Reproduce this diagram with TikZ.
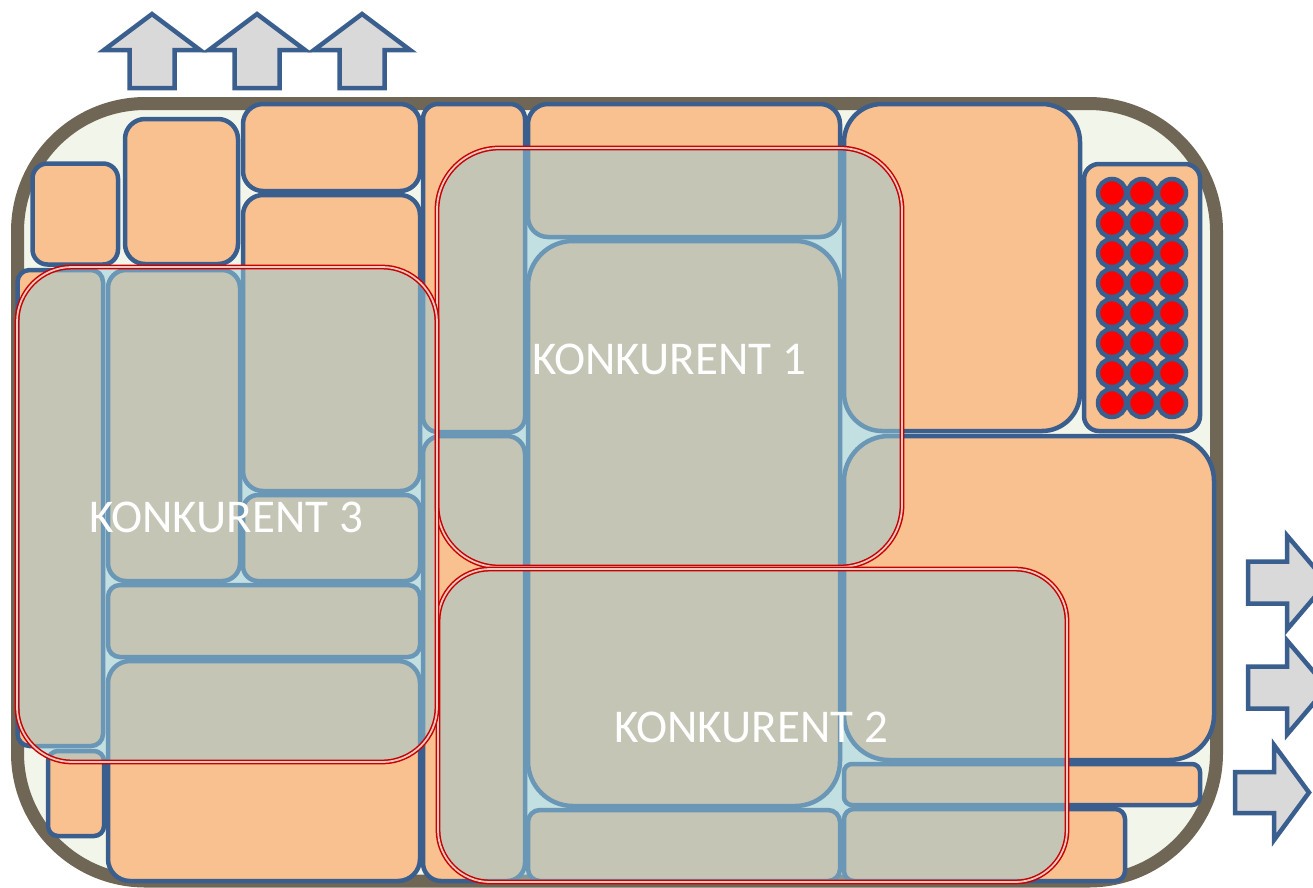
\documentclass[tikz,border=0pt]{standalone}
\usepackage{fontspec}
\setmainfont{Carlito}
\definecolor{boxline}{RGB}{112,102,85}
\definecolor{boxfill}{RGB}{242,246,234}
\definecolor{plotfill}{RGB}{249,192,144}
\definecolor{plotline}{RGB}{58,95,142}
\definecolor{arrowfill}{RGB}{217,217,217}
\definecolor{rivalfill}{RGB}{150,203,217}
\definecolor{rivalline}{RGB}{200,0,0}
\definecolor{rivalgap}{RGB}{236,200,190}
\begin{document}
\begin{tikzpicture}[x=1pt,y=-1pt,
    parcel/.style={draw=plotline,fill=plotfill,line width=4.5pt},
    rival/.style={fill=rivalfill,fill opacity=0.52,draw=rivalline,
      double=rivalgap,double distance=1.8pt,line width=1.5pt},
    bigarrow/.style={draw=plotline,fill=arrowfill,line width=4.5pt,line join=miter},
    tag/.style={text=white,font=\fontsize{47}{56}\selectfont,inner sep=0pt}]
  \clip (0,0) rectangle (1313,887);
  % outer boundary
  \draw[line width=13pt,draw=boxline,fill=boxfill,rounded corners=128pt]
    (17.5,103.5) rectangle (1216.5,881);
  % parcels
  \foreach \xa/\ya/\xb/\yb/\r in {
      32.5/163.5/118/264.5/15, 125/119/238/264/20, 243/104/420/191/20,
      243/195/420/491/20, 243/495/420/581/15, 108/270/240/581/18,
      108/585/420/657/12, 108/661/420/881/22, 17.5/270/103/746/12,
      48/751/104/836/10, 423/104/525/432/15, 423/436/525/881/18,
      528/104/840/237/20, 528/241/840/806/45, 844/104/1080/431/38,
      1084/164/1200/431/15, 844/436/1214/760/45, 844/764/1200/805/8,
      844/809/1125/881/10, 528/810/840/881/12}
    \draw[parcel,rounded corners=\r pt] (\xa,\ya) rectangle (\xb,\yb);
  % red points
  \foreach \i in {0,...,7}
    \foreach \cx in {1112,1142,1172}
      \draw[draw=plotline,fill=red,line width=4.5pt] (\cx,193+30*\i) circle[radius=14pt];
  % competitors
  \draw[rival,rounded corners=62pt] (437,148) rectangle (902,567);
  \draw[rival,rounded corners=52pt] (438,569) rectangle (1067,882);
  \draw[rival,rounded corners=55pt] (17,267) rectangle (437,762);
  \node[tag] (konk1) at (669,359) {KONKURENT 1};
  \node[tag] (konk2) at (751,727) {KONKURENT 2};
  \node[tag] (konk3) at (226,517) {KONKURENT 3};
  % exits
  \foreach \dx in {0,105,210}
    \draw[bigarrow] (129.5+\dx,88) -- (129.5+\dx,50) -- (104+\dx,50) -- (152+\dx,14)
      -- (200+\dx,50) -- (174.5+\dx,50) -- (174.5+\dx,88) -- cycle;
  \foreach \cy in {582.5,687.5}
    \draw[bigarrow] (1248,\cy-21) -- (1287,\cy-21) -- (1287,\cy-47) -- (1327,\cy)
      -- (1287,\cy+47) -- (1287,\cy+21) -- (1248,\cy+21) -- cycle;
  \draw[bigarrow] (1235,772) -- (1274,772) -- (1274,745) -- (1309,792.5)
    -- (1274,840) -- (1274,813) -- (1235,813) -- cycle;
\end{tikzpicture}
\end{document}
